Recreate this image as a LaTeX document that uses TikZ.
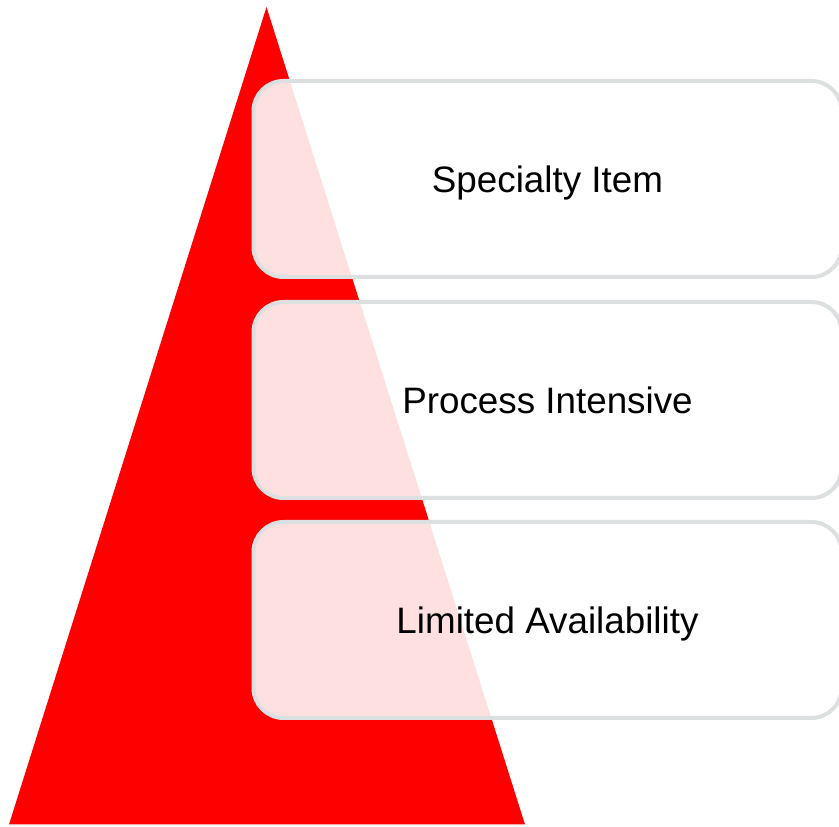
\documentclass[tikz,border=0pt]{standalone}
\usepackage{fontspec}
\setmainfont{Liberation Sans}
\definecolor{boxline}{HTML}{DCE0E0}
\definecolor{tri}{HTML}{FF0000}
\newcommand{\boxlabel}[1]{\raisebox{-13.5pt}[0pt][0pt]{#1}}
\tikzset{
  itembox/.style={draw=boxline, line width=4pt, fill=white, fill opacity=0.88, text opacity=1,
    rounded corners=30pt, minimum width=588pt, minimum height=196pt, inner sep=0pt,
    font=\fontsize{36.8}{44}\selectfont, text=black},
}
\begin{document}
\begin{tikzpicture}[x=1pt,y=1pt]
\useasboundingbox (0,0) rectangle (839,827);
\clip (0,0) rectangle (839,827);
\coordinate (apex) at (266.5,820);
\coordinate (bl) at (9,2.5);
\coordinate (br) at (525,2.5);
\fill[tri] (apex) -- (br) -- (bl) -- cycle;
\node[itembox] (b1) at (547.5,648) {\boxlabel{Specialty Item}};
\node[itembox] (b2) at (547.5,427) {\boxlabel{Process Intensive}};
\node[itembox] (b3) at (547.5,207) {\boxlabel{Limited Availability}};
\end{tikzpicture}
\end{document}
